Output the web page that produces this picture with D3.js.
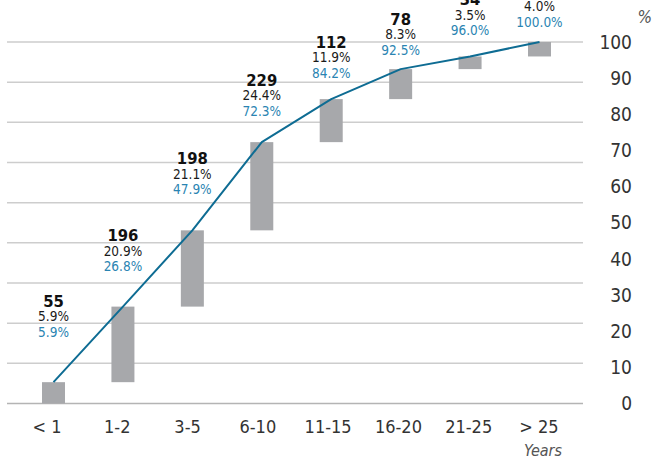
<!DOCTYPE html>
<html>
<head>
<meta charset="utf-8">
<script src="https://cdn.jsdelivr.net/npm/d3@7/dist/d3.min.js"></script>
<style>
  html, body { margin: 0; padding: 0; background: #fff; }
  svg { display: block; }
  text { font-family: "Liberation Sans Narrow", "DejaVu Sans Condensed", "Liberation Sans", sans-serif; }
</style>
</head>
<body>
<svg id="chart" width="653" height="459"></svg>
<script>
// Length of service bands
const categories = ["< 1", "1-2", "3-5", "6-10", "11-15", "16-20", "21-25", "> 25"];
// Headcount per band
const counts = [55, 196, 198, 229, 112, 78, 34, 38];
// Share of total headcount, %
const shares = [5.9, 20.9, 21.1, 24.4, 11.9, 8.3, 3.5, 4.0];
// Running total of the shares, %
const cumulative = [5.9, 26.8, 47.9, 72.3, 84.2, 92.5, 96.0, 100.0];
// Right-hand axis labels
const yTickLabels = [0, 10, 20, 30, 40, 50, 60, 70, 80, 90, 100];

// Annotation lift above each bar top (px), set by hand so the labels clear the line
const labelLift = [50, 40, 41, 31, 26, 19, 26, 20];

const plot = { left: 7, right: 583, top: 42, bottom: 403.5 };

const svg = d3.select("#chart");

const y = d3.scaleLinear().domain([0, 100]).range([plot.bottom, plot.top]);
const xBar = d3.scalePoint().domain(categories).range([53.5, 539.5]);
const xLabel = d3.scalePoint().domain(categories).range([47, 539]);
const barW = 23;

// Background rules: ten evenly spaced lines across the plot
const gridIdx = d3.range(10);
const gy = d3.scaleLinear().domain([0, 9]).range([plot.bottom, plot.top]);
svg.append("g").selectAll("line").data(gridIdx).join("line")
  .attr("x1", plot.left).attr("x2", plot.right)
  .attr("y1", d => gy(d)).attr("y2", d => gy(d))
  .attr("stroke", d => d === 0 ? "#b4b4b4" : "#cdcdcd")
  .attr("stroke-width", 1.5);

// Floating bars from previous running total up to this band's total
svg.append("g").selectAll("rect").data(categories).join("rect")
  .attr("x", d => xBar(d) - barW / 2)
  .attr("width", barW)
  .attr("y", (d, i) => y(cumulative[i]))
  .attr("height", (d, i) => y(cumulative[i] - shares[i]) - y(cumulative[i]))
  .attr("fill", "#a7a8ab");

// Cumulative line
const line = d3.line()
  .x(d => xBar(d.c))
  .y(d => y(d.v));
svg.append("path")
  .datum(categories.map((c, i) => ({ c, v: cumulative[i] })))
  .attr("d", line)
  .attr("fill", "none")
  .attr("stroke", "#0e6c93")
  .attr("stroke-width", 2)
  .attr("stroke-linejoin", "round");

// Annotations: count, share, running total
const ann = svg.append("g").selectAll("g").data(categories).join("g")
  .attr("transform", (d, i) => `translate(${xBar(d)},${y(cumulative[i]) - labelLift[i]})`);
ann.append("text")
  .attr("y", -31).attr("dy", "0.35em")
  .attr("text-anchor", "middle")
  .attr("font-size", 16.5).attr("font-weight", "bold").attr("fill", "#111")
  .text((d, i) => counts[i]);
ann.append("text")
  .attr("y", -15.5).attr("dy", "0.35em")
  .attr("text-anchor", "middle")
  .attr("font-size", 13.5).attr("fill", "#1a1a1a")
  .text((d, i) => shares[i].toFixed(1) + "%");
ann.append("text")
  .attr("y", 0).attr("dy", "0.35em")
  .attr("text-anchor", "middle")
  .attr("font-size", 13.5).attr("fill", "#2a84b2")
  .text((d, i) => cumulative[i].toFixed(1) + "%");

// Category labels
svg.append("g").selectAll("text").data(categories).join("text")
  .attr("x", d => xLabel(d))
  .attr("y", 427).attr("dy", "0.35em")
  .attr("text-anchor", "middle")
  .attr("font-size", 18).attr("fill", "#333")
  .text(d => d);

svg.append("text")
  .attr("x", 562).attr("y", 450).attr("dy", "0.35em")
  .attr("text-anchor", "end")
  .attr("font-size", 16).attr("font-style", "italic").attr("fill", "#555")
  .text("Years");

// Percentage scale on the right
svg.append("g").selectAll("text").data(yTickLabels).join("text")
  .attr("x", 632)
  .attr("y", d => y(d)).attr("dy", "0.35em")
  .attr("text-anchor", "end")
  .attr("font-size", 19).attr("fill", "#333")
  .text(d => d);

svg.append("text")
  .attr("x", 652).attr("y", 17).attr("dy", "0.35em")
  .attr("text-anchor", "end")
  .attr("font-size", 17).attr("font-style", "italic").attr("fill", "#555")
  .text("%");
</script>
</body>
</html>
